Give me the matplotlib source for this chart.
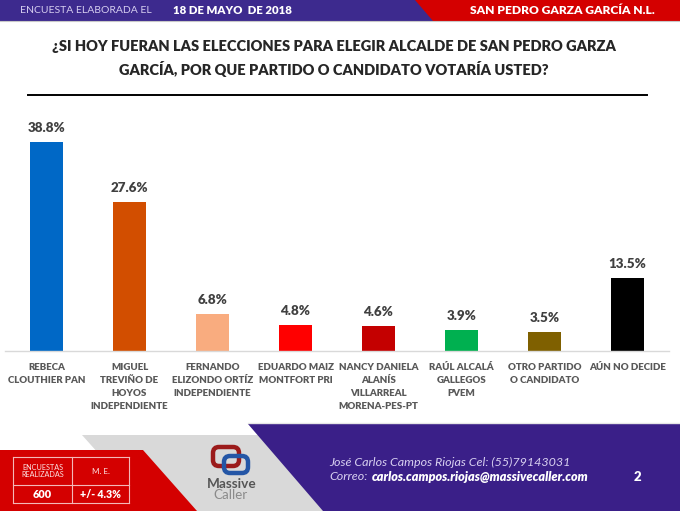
import matplotlib
matplotlib.use("Agg")
import matplotlib.pyplot as plt
from matplotlib.patches import Polygon, Rectangle, FancyBboxPatch

plt.rcParams['font.family'] = ['Lato', 'DejaVu Sans']

categories = [
    "REBECA\nCLOUTHIER PAN",
    "MIGUEL\nTREVIÑO DE\nHOYOS\nINDEPENDIENTE",
    "FERNANDO\nELIZONDO ORTÍZ\nINDEPENDIENTE",
    "EDUARDO MAIZ\nMONTFORT PRI",
    "NANCY DANIELA\nALANÍS\nVILLARREAL\nMORENA-PES-PT",
    "RAÚL ALCALÁ\nGALLEGOS\nPVEM",
    "OTRO PARTIDO\nO CANDIDATO",
    "AÚN NO DECIDE",
]
values = [38.8, 27.6, 6.8, 4.8, 4.6, 3.9, 3.5, 13.5]
bar_colors = ["#0068C6", "#D24E00", "#F9AC7F", "#FF0000", "#C40000", "#00B050", "#7F6000", "#000000"]

title = "¿SI HOY FUERAN LAS ELECCIONES PARA ELEGIR ALCALDE DE SAN PEDRO GARZA\nGARCÍA, POR QUE PARTIDO O CANDIDATO VOTARÍA USTED?"

W, H = 680, 511
fig = plt.figure(figsize=(6.8, 5.11), dpi=100)
renderer = fig.canvas.get_renderer()


def fit(t, width):
    w = t.get_window_extent(renderer).width
    t.set_fontsize(t.get_fontsize() * width / w)
    return t


bg = fig.add_axes([0, 0, 1, 1], zorder=0)
bg.set_xlim(0, W)
bg.set_ylim(H, 0)
bg.axis('off')

PURPLE = "#3A1F88"
RED = "#D40000"
# header
bg.add_patch(Rectangle((0, 0), W, 21, color="#3D2A8E", lw=0))
bg.add_patch(Polygon([(415, 0), (W, 0), (W, 21), (433, 21)], closed=True, color=RED, lw=0))
bg.plot([0, W], [21.5, 21.5], color="#C8C8C8", lw=0.8)
fit(bg.text(20, 10.5, "ENCUESTA ELABORADA EL", color="#D6CEF0", fontsize=8, va='center', ha='left'), 131)
fit(bg.text(173, 10.5, "18 DE MAYO  DE 2018", color="white", fontsize=8, fontweight='heavy',
            va='center', ha='left'), 120)
fit(bg.text(562, 10.5, "SAN PEDRO GARZA GARCÍA N.L.", color="white", fontsize=8, fontweight='heavy',
            va='center', ha='center'), 185)

# title
fit(bg.text(334, 58.5, title, color="#262626", fontsize=10, fontweight='heavy', ha='center', va='center',
            linespacing=1.6), 568)
bg.plot([28, 647], [95, 95], color="black", lw=1.4)

# footer
bg.add_patch(Polygon([(82, 435), (W, 435), (W, H), (150, H)], closed=True, color="#D9D9D9", lw=0))
bg.add_patch(Polygon([(0, 450), (143, 450), (197, H), (0, H)], closed=True, color=RED, lw=0))
bg.add_patch(Polygon([(248, 424), (W, 424), (W, H), (323, H)], closed=True, color=PURPLE, lw=0))
bg.plot([248, W], [423.5, 423.5], color="#E6E6E6", lw=1.0)

# table
tx = [13, 72, 129]
ty = [457, 485, 503]
for xv in tx:
    bg.plot([xv, xv], [ty[0], ty[-1]], color="#F4B8B8", lw=0.8)
for yv in ty:
    bg.plot([tx[0], tx[-1]], [yv, yv], color="#F4B8B8", lw=0.8)
fit(bg.text(42.5, 471, "ENCUESTAS\nREALIZADAS", color="#FBE3E3", fontsize=5.4, ha='center', va='center',
            linespacing=1.1), 43)
bg.text(100.5, 472, "M. E.", color="#FBE3E3", fontsize=5.8, ha='center', va='center')
fit(bg.text(42.5, 495, "600", color="white", fontsize=7.4, fontweight='heavy', ha='center', va='center'), 19)
fit(bg.text(100.5, 495, "+/- 4.3%", color="white", fontsize=7.4, fontweight='heavy', ha='center',
            va='center'), 41)

# logo
bg.add_patch(FancyBboxPatch((215, 449), 22, 15, boxstyle="round,pad=2,rounding_size=6",
                            fc="none", ec="#9B1B1B", lw=3.2))
bg.add_patch(FancyBboxPatch((226, 458), 20, 13, boxstyle="round,pad=2,rounding_size=6",
                            fc="none", ec="#2456A6", lw=3.2))
fit(bg.text(232, 484, "Massive", color="#555555", fontsize=10, fontweight='bold', ha='center', va='center'), 50)
fit(bg.text(230, 495, "Caller", color="#8A8A8A", fontsize=10, ha='center', va='center'), 34)

# footer text
line1 = fit(bg.text(329, 462, "José Carlos Campos Riojas Cel: (55)79143031", color="#D8D0F0", fontsize=9,
                    style='italic', ha='left', va='center'), 241)
fs = line1.get_fontsize()
t1 = bg.text(329, 477, "Correo:", color="#D8D0F0", fontsize=fs, style='italic', ha='left', va='center')
t2 = bg.annotate("carlos.campos.riojas@massivecaller.com", xy=(1, 0.5), xycoords=t1,
                 xytext=(4, 0), textcoords='offset pixels', color="white",
                 fontsize=fs, style='italic', fontweight='heavy', ha='left', va='center')
fit(t2, 216)
bg.text(637, 477, "2", color="white", fontsize=9.5, fontweight='heavy', ha='center', va='center')

# chart axes
ax_left = 5 / W
ax_width = 664 / W
ax_bottom = (H - 351) / H
ymax = 45
ax_height = ymax * 5.39 / H
ax = fig.add_axes([ax_left, ax_bottom, ax_width, ax_height], zorder=1)
ax.patch.set_alpha(0)
x = list(range(len(values)))
ax.bar(x, values, width=0.4, color=bar_colors, zorder=2)
ax.set_xlim(-0.5, len(values) - 0.5)
ax.set_ylim(0, ymax)
for spine in ['top', 'right', 'left']:
    ax.spines[spine].set_visible(False)
ax.spines['bottom'].set_color("#D9D9D9")
ax.spines['bottom'].set_linewidth(1.0)
ax.set_yticks([])
ax.set_xticks(x)
ax.set_xticklabels(categories, fontsize=7.0, fontweight='heavy', color="#595959", linespacing=1.6)
ax.tick_params(axis='x', length=0, pad=8.5)
for xi, v in zip(x, values):
    ax.annotate(f"{v:.1f}%", (xi, v), xytext=(0, 6), textcoords='offset points',
                ha='center', va='bottom', fontsize=9.6, fontweight='heavy', color="#404040")

fig.savefig("out.png", dpi=100)
